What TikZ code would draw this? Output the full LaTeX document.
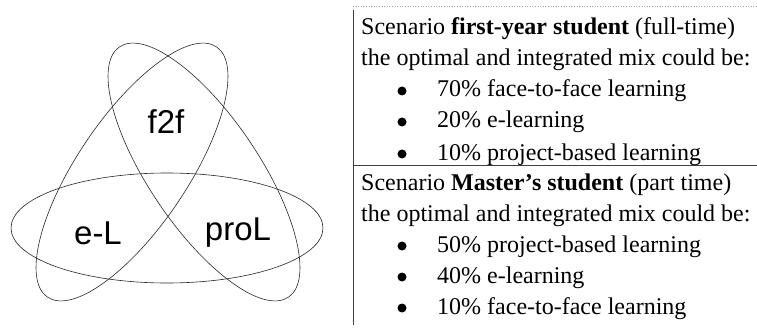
\documentclass[tikz,border=0pt]{standalone}
\usepackage{fontspec}
\setmainfont{Liberation Serif}
\newfontfamily\labelfont{Liberation Sans}
\usetikzlibrary{positioning}

\begin{document}
\begin{tikzpicture}[
  x=1pt, y=1pt,
  ring/.style={draw=black!85, line width=0.6pt},
  area/.style={font=\labelfont\fontsize{33}{36}\selectfont, inner sep=0pt},
  row/.style={anchor=base west, inner sep=0pt, font=\fontsize{24}{28}\selectfont},
  dot/.style={circle, fill=black, inner sep=0pt, minimum size=9pt},
  rule/.style={draw=black!75, line width=0.6pt}
]
  \useasboundingbox (0,0) rectangle (757,327);
  % three overlapping rings
  \draw[ring] (167,99) ellipse [x radius=156, y radius=55];
  \draw[ring, rotate around={-56:(204,155)}] (204,155) ellipse [x radius=151, y radius=55];
  \draw[ring, rotate around={56:(132,155)}] (132,155) ellipse [x radius=151, y radius=55];
  \node[area] (f2f)  at (166,205) {f2f};
  \node[area] (el)   at (98,94)   {e-L};
  \node[area] (prol) at (238,94)  {proL};
  % table rules
  \coordinate (tl) at (353,321);
  \coordinate (tr) at (757,321);
  \coordinate (ml) at (353,162);
  \coordinate (mr) at (757,162);
  \coordinate (bl) at (353,2);
  \draw[rule, black!35, dotted] (tl) -- (tr);
  \draw[rule] (353,317) -- (bl);
  \draw[rule] (ml) -- (mr);
  % scenario one
  \node[row] (s1head) at (361,292) {Scenario \textbf{first-year student} (full-time)};
  \node[row] (s1mix)  at (361,261) {the optimal and integrated mix could be:};
  \node[row] (s1a) at (437,230) {70\% face-to-face learning};
  \node[row] (s1b) at (437,199) {20\% e-learning};
  \node[row] (s1c) at (437,167) {10\% project-based learning};
  \node[dot] at (402,236) {};
  \node[dot] at (402,205) {};
  \node[dot] at (402,173) {};
  % scenario two
  \node[row] (s2head) at (361,137) {Scenario \textbf{Master’s student} (part time)};
  \node[row] (s2mix)  at (361,106) {the optimal and integrated mix could be:};
  \node[row] (s2a) at (437,75) {50\% project-based learning};
  \node[row] (s2b) at (437,44) {40\% e-learning};
  \node[row] (s2c) at (437,13) {10\% face-to-face learning};
  \node[dot] at (402,81) {};
  \node[dot] at (402,50) {};
  \node[dot] at (402,19) {};
\end{tikzpicture}
\end{document}
